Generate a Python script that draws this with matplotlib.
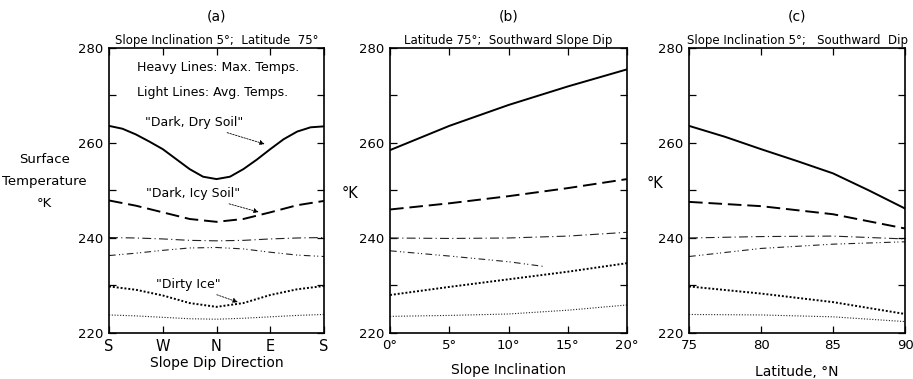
import matplotlib.pyplot as plt
import numpy as np

# (a) slope dip direction, azimuth measured from S through W, N, E back to S
az = [0, 22.5, 45, 67.5, 90, 112.5, 135, 157.5, 180, 202.5, 225, 247.5, 270, 292.5, 315, 337.5, 360]
a_dry_max = [263.6, 263.0, 261.8, 260.3, 258.7, 256.6, 254.5, 252.9, 252.4, 252.9, 254.5, 256.5, 258.7, 260.8, 262.4, 263.3, 263.5]
az9 = [0, 45, 90, 135, 180, 225, 270, 315, 360]
a_icy_max = [247.9, 246.8, 245.4, 244.0, 243.4, 244.0, 245.4, 246.9, 247.8]
a_dry_avg = [240.1, 240.0, 239.8, 239.5, 239.4, 239.5, 239.8, 240.0, 240.1]
a_icy_avg = [236.3, 236.8, 237.4, 237.9, 238.0, 237.7, 237.0, 236.4, 236.1]
a_ice_max = [229.8, 229.1, 227.9, 226.3, 225.5, 226.3, 228.0, 229.2, 229.9]
a_ice_avg = [223.8, 223.6, 223.3, 223.0, 222.9, 223.1, 223.4, 223.7, 223.9]
dir_labels = ["S", "W", "N", "E", "S"]

# (b) slope inclination, degrees
inc = [0, 5, 10, 15, 20]
b_dry_max = [258.5, 263.6, 268.0, 271.9, 275.5]
b_icy_max = [246.0, 247.3, 248.8, 250.5, 252.4]
b_dry_avg = [240.0, 239.9, 240.0, 240.4, 241.2]
inc_short = [0, 5, 10, 13]
b_icy_avg = [237.3, 236.2, 235.0, 234.0]
b_ice_max = [228.0, 229.7, 231.3, 232.9, 234.7]
b_ice_avg = [223.5, 223.7, 224.0, 224.8, 225.9]

# (c) latitude, deg N
lat = [75, 77.5, 80, 82.5, 85, 87.5, 90]
c_dry_max = [263.6, 261.3, 258.7, 256.2, 253.6, 250.0, 246.2]
lat4 = [75, 80, 85, 90]
c_icy_max = [247.6, 246.7, 245.0, 242.0]
c_dry_avg = [240.0, 240.3, 240.4, 239.8]
c_icy_avg = [236.1, 237.8, 238.7, 239.2]
c_ice_max = [229.8, 228.3, 226.5, 224.0]
c_ice_avg = [223.9, 223.8, 223.4, 222.4]

plt.rcParams['font.family'] = 'DejaVu Sans'
plt.rcParams['font.size'] = 9

fig = plt.figure(figsize=(9.13, 3.79), dpi=100)
ax1 = fig.add_axes([0.1194, 0.1214, 0.2355, 0.752])
ax2 = fig.add_axes([0.4272, 0.1214, 0.2596, 0.752])
ax3 = fig.add_axes([0.7547, 0.1214, 0.2366, 0.752])

heavy = dict(color='black', lw=1.4)
light = dict(color='#222222', lw=0.8)
styles = {
    'dry_max': dict(ls='-', **heavy),
    'icy_max': dict(ls=(0, (7, 3)), **heavy),
    'dry_avg': dict(ls=(0, (8, 3, 1, 3)), **light),
    'icy_avg': dict(ls=(0, (6, 3, 1, 2, 1, 3)), **light),
    'ice_max': dict(ls=(0, (1, 1)), **heavy),
    'ice_avg': dict(ls=(0, (1, 1.5)), **light),
}

ax1.plot(az, a_dry_max, **styles['dry_max'])
ax1.plot(az9, a_icy_max, **styles['icy_max'])
ax1.plot(az9, a_dry_avg, **styles['dry_avg'])
ax1.plot(az9, a_icy_avg, **styles['icy_avg'])
ax1.plot(az9, a_ice_max, **styles['ice_max'])
ax1.plot(az9, a_ice_avg, **styles['ice_avg'])

ax2.plot(inc, b_dry_max, **styles['dry_max'])
ax2.plot(inc, b_icy_max, **styles['icy_max'])
ax2.plot(inc, b_dry_avg, **styles['dry_avg'])
ax2.plot(inc_short, b_icy_avg, **styles['icy_avg'])
ax2.plot(inc, b_ice_max, **styles['ice_max'])
ax2.plot(inc, b_ice_avg, **styles['ice_avg'])

ax3.plot(lat, c_dry_max, **styles['dry_max'])
ax3.plot(lat4, c_icy_max, **styles['icy_max'])
ax3.plot(lat4, c_dry_avg, **styles['dry_avg'])
ax3.plot(lat4, c_icy_avg, **styles['icy_avg'])
ax3.plot(lat4, c_ice_max, **styles['ice_max'])
ax3.plot(lat4, c_ice_avg, **styles['ice_avg'])

for ax in (ax1, ax2, ax3):
    ax.set_ylim(220, 280)
    ax.set_yticks([220, 240, 260, 280])
    ax.set_yticks([230, 250, 270], minor=True)
    ax.tick_params(which='both', direction='in', top=True, right=True,
                   length=5, width=0.9, labelsize=9.5, pad=4)
    for s in ax.spines.values():
        s.set_linewidth(1.2)

ax1.set_xlim(0, 360)
ax1.set_xticks([0, 90, 180, 270, 360])
ax1.set_xticklabels(dir_labels, fontsize=10.5)
ax2.set_xlim(0, 20)
ax2.set_xticks(inc)
ax2.set_xticklabels([f"{v}°" for v in inc])
ax3.set_xlim(75, 90)
ax3.set_xticks([75, 80, 85, 90])

ax1.set_xlabel("Slope Dip Direction", fontsize=10, labelpad=2)
ax2.set_xlabel("Slope Inclination", fontsize=10, labelpad=8)
ax3.set_xlabel("Latitude, °N", fontsize=10, labelpad=10)

fig.text(0.049, 0.52, "Surface\nTemperature\n°K", ha='center', va='center',
         fontsize=9.5, linespacing=1.9)
ax2.set_ylabel("°K", fontsize=10.5, rotation=0, va='center', ha='center')
ax3.set_ylabel("°K", fontsize=10.5, rotation=0, va='center', ha='center')
ax2.yaxis.set_label_coords(-0.169, 0.491)
ax3.yaxis.set_label_coords(-0.157, 0.526)

for ax, lab, sub in ((ax1, "(a)", "Slope Inclination 5°;  Latitude  75°"),
                     (ax2, "(b)", "Latitude 75°;  Southward Slope Dip"),
                     (ax3, "(c)", "Slope Inclination 5°;   Southward  Dip")):
    ax.text(0.5, 1.109, lab, transform=ax.transAxes, ha='center', va='center', fontsize=10)
    ax.text(0.5, 1.005, sub, transform=ax.transAxes, ha='center', va='bottom', fontsize=8.5)

ax1.text(0.13, 0.93, "Heavy Lines: Max. Temps.", transform=ax1.transAxes, fontsize=9, va='center')
ax1.text(0.13, 0.845, "Light Lines: Avg. Temps.", transform=ax1.transAxes, fontsize=9, va='center')

arrow = dict(arrowstyle='-|>', lw=0.6, color='black', mutation_scale=7, linestyle=(0, (2, 1.5)))
ax1.annotate('"Dark, Dry Soil"', xy=(265, 259.6), xytext=(60, 264.3), fontsize=9,
             va='center', arrowprops=arrow)
ax1.annotate('"Dark, Icy Soil"', xy=(255, 245.3), xytext=(62, 249.3), fontsize=9,
             va='center', arrowprops=arrow)
ax1.annotate('"Dirty Ice"', xy=(220, 226.3), xytext=(78, 230.2), fontsize=9,
             va='center', arrowprops=arrow)

fig.savefig("out.png", dpi=100)
